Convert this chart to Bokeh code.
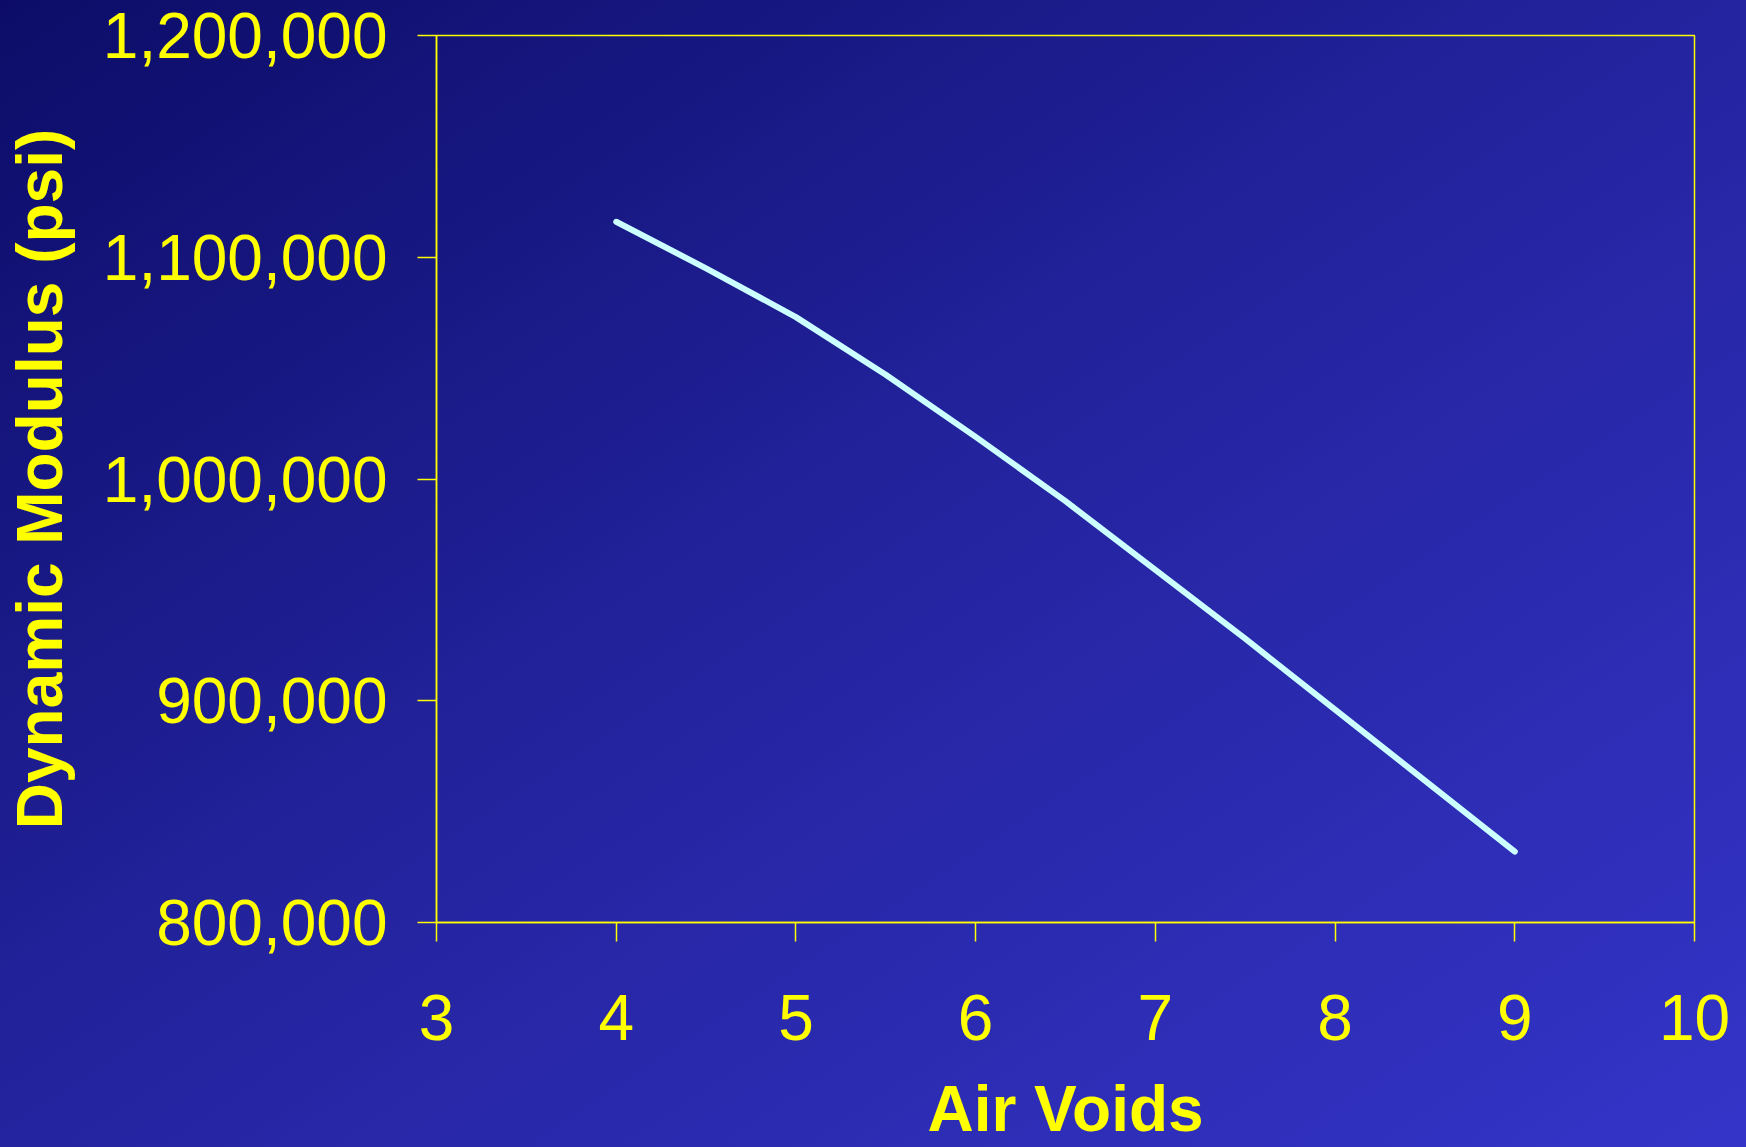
from bokeh.plotting import figure
from bokeh.models import Range1d, FixedTicker, NumeralTickFormatter, GlobalInlineStyleSheet
from bokeh.embed import file_html
from bokeh.resources import INLINE

# ---- data ----
air_voids = [4, 4.5, 5, 5.5, 6, 6.5, 7, 7.5, 8, 8.5, 9]
modulus = [1116000, 1095000, 1073000, 1047000, 1019000, 990000,
           959000, 928000, 896000, 864000, 832000]
x_ticks = [3, 4, 5, 6, 7, 8, 9, 10]
y_ticks = [800000, 900000, 1000000, 1100000, 1200000]
x_label = "Air Voids"
y_label = "Dynamic Modulus (psi)"

YELLOW = "#ffff00"
FONT = "Liberation Sans"

p = figure(width=1746, height=1147, output_backend="svg", toolbar_location=None,
           x_range=Range1d(3, 10), y_range=Range1d(800000, 1200000),
           min_border_left=436, min_border_right=52, min_border_top=35,
           min_border_bottom=225)

p.background_fill_alpha = 0
p.border_fill_alpha = 0
p.outline_line_color = YELLOW
p.outline_line_width = 1.5
p.outline_line_alpha = 1
p.grid.visible = False

p.xaxis.ticker = FixedTicker(ticks=x_ticks)
p.yaxis.ticker = FixedTicker(ticks=y_ticks)
p.yaxis.formatter = NumeralTickFormatter(format="0,0")

for ax in (p.xaxis, p.yaxis):
    ax.axis_line_color = YELLOW
    ax.axis_line_width = 1.5
    ax.major_tick_line_color = YELLOW
    ax.major_tick_line_width = 1.5
    ax.major_tick_out = 19
    ax.major_tick_in = 0
    ax.minor_tick_out = 0
    ax.minor_tick_in = 0
    ax.major_label_text_color = YELLOW
    ax.major_label_text_font = FONT
    ax.major_label_text_font_size = "64px"
    ax.axis_label_text_color = YELLOW
    ax.axis_label_text_font = FONT
    ax.axis_label_text_font_size = "64px"
    ax.axis_label_text_font_style = "bold"

p.xaxis.axis_label = x_label
p.yaxis.axis_label = y_label
p.xaxis.major_label_standoff = 53
p.xaxis.axis_label_standoff = 30
p.yaxis.major_label_standoff = 30
p.yaxis.axis_label_standoff = 24

p.line(air_voids, modulus, line_color="#ccffff", line_width=6,
       line_cap="round", line_join="round")

p.stylesheets = [GlobalInlineStyleSheet(css=(
    "html, body { background: linear-gradient(to bottom right, #0c0c68 0%, "
    "#2424a0 50%, #3434c8 100%) fixed; }"))]

open("out.html", "w").write(file_html(p, INLINE))
